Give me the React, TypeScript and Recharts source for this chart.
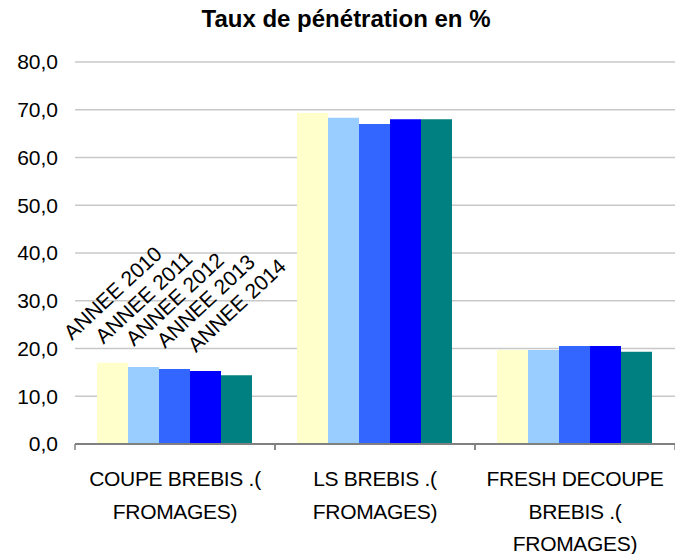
import React from 'react';
import { BarChart, Bar, XAxis, YAxis, CartesianGrid, LabelList } from 'recharts';

const categories = ['COUPE BREBIS .( FROMAGES)', 'LS BREBIS .( FROMAGES)', 'FRESH DECOUPE BREBIS .( FROMAGES)'];
const tickLines = [['COUPE BREBIS .(', 'FROMAGES)'], ['LS BREBIS .(', 'FROMAGES)'], ['FRESH DECOUPE', 'BREBIS .(', 'FROMAGES)']];
const years = ['ANNEE 2010', 'ANNEE 2011', 'ANNEE 2012', 'ANNEE 2013', 'ANNEE 2014'];
const colors = ['#FFFFCC', '#99CCFF', '#3366FF', '#0000FF', '#008080'];

const annee2010 = [17.0, 69.3, 19.7];
const annee2011 = [16.1, 68.3, 19.7];
const annee2012 = [15.7, 67.0, 20.5];
const annee2013 = [15.3, 68.0, 20.5];
const annee2014 = [14.4, 68.0, 19.3];
const series = [annee2010, annee2011, annee2012, annee2013, annee2014];

const yTicks = [0, 10, 20, 30, 40, 50, 60, 70, 80];

const data = categories.map((c, i) => {
  const row: any = { name: c, idx: i };
  years.forEach((y, s) => { row[y] = series[s][i]; });
  return row;
});

const FONT = "Arial, 'Liberation Sans', sans-serif";

// multi-line category labels plus the small boundary ticks
function CategoryTick(props: any) {
  const { x, y, payload } = props;
  const lines = tickLines[payload.index] || [payload.value];
  return (
    <g>
      <line x1={x - 100} y1={y - 8} x2={x - 100} y2={y - 2} stroke="#808080" strokeWidth={1.5} />
      <line x1={x + 100} y1={y - 8} x2={x + 100} y2={y - 2} stroke="#808080" strokeWidth={1.5} />
      {lines.map((l: string, k: number) => (
        <text key={k} x={x} y={y + 34 + k * 32.5} textAnchor="middle" fontSize={21} letterSpacing={-0.3} fontFamily={FONT} fill="#000">
          {l}
        </text>
      ))}
    </g>
  );
}

function yearLabel(name: string) {
  return (props: any) => {
    const { x, y, width, index } = props;
    if (index !== 0) return null;
    const cx = x + width / 2;
    const cy = y - 70;
    return (
      <text
        x={cx}
        y={cy}
        textAnchor="middle"
        dominantBaseline="central"
        fontSize={21}
        fontFamily={FONT}
        fill="#000"
        transform={`rotate(-43 ${cx} ${cy})`}
      >
        {name}
      </text>
    );
  };
}

export default function App() {
  return (
    <div style={{ position: 'absolute', left: 0, top: 0, width: 675, height: 554, background: '#fff' }}>
      <div
        style={{
          position: 'absolute',
          top: 5,
          left: 0,
          width: 692,
          textAlign: 'center',
          fontFamily: FONT,
          fontWeight: 'bold',
          fontSize: 24,
        }}
      >
        Taux de pénétration en %
      </div>
      <BarChart
        width={675}
        height={554}
        data={data}
        margin={{ top: 62, right: 0, left: 0, bottom: 0 }}
        barCategoryGap="11%"
        barGap={0}
      >
        <CartesianGrid vertical={false} stroke="#c8c8c8" strokeWidth={1.5} />
        <XAxis
          dataKey="name"
          height={110}
          tick={<CategoryTick />}
          tickLine={false}
          axisLine={{ stroke: '#808080', strokeWidth: 2 }}
          interval={0}
        />
        <YAxis
          width={75}
          domain={[0, 80]}
          ticks={yTicks}
          tickFormatter={(v: number) => v.toFixed(1).replace('.', ',')}
          axisLine={false}
          tickLine={false}
          tickMargin={11}
          tick={{ fontSize: 21, fontFamily: FONT, fill: '#000' }}
        />
        {years.map((y, s) => (
          <Bar key={y} dataKey={y} fill={colors[s]} isAnimationActive={false}>
            <LabelList dataKey={y} content={yearLabel(y)} />
          </Bar>
        ))}
      </BarChart>
    </div>
  );
}
